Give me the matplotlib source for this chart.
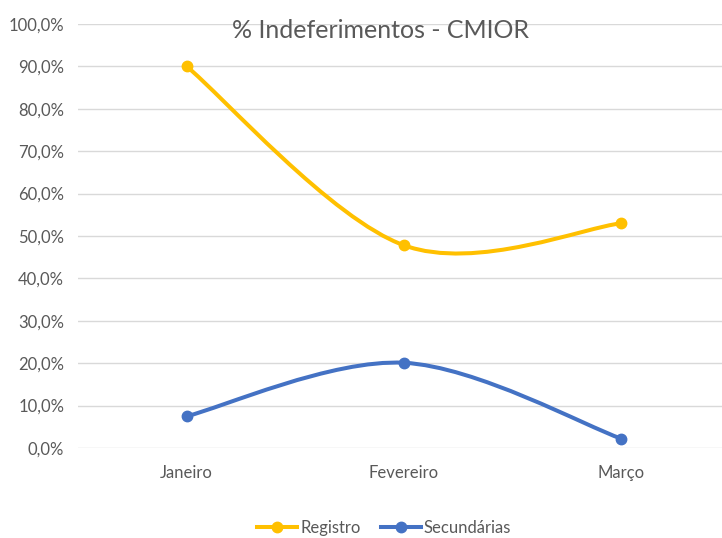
import numpy as np
import matplotlib.pyplot as plt
from matplotlib.path import Path
from matplotlib.patches import PathPatch
from matplotlib.ticker import FuncFormatter

plt.rcParams['font.family'] = ['Lato', 'DejaVu Sans']

meses = ['Janeiro', 'Fevereiro', 'Março']
registro = [90.0, 47.8, 53.0]
secundarias = [7.5, 20.1, 2.2]

cor_registro = '#FFC000'
cor_secundarias = '#4472C4'
cinza = '#595959'

fig = plt.figure(figsize=(7.22, 5.38), dpi=100)
# area do grafico passa um pouco da borda direita (imagem recortada)
ax = fig.add_axes([78 / 722, 1 - 448 / 538, 652 / 722, (448 - 24) / 538])
ax.set_xlim(-0.5, 2.5)
ax.set_ylim(0, 100)


def suave(ax, ys, cor):
    # curva suavizada estilo Excel (Catmull-Rom em coordenadas de tela)
    xs = np.arange(len(ys))
    pts = ax.transData.transform(np.column_stack([xs, ys]))
    verts = [pts[0]]
    codes = [Path.MOVETO]
    n = len(pts)
    for i in range(n - 1):
        p0 = pts[i - 1] if i > 0 else pts[i]
        p1 = pts[i]
        p2 = pts[i + 1]
        p3 = pts[i + 2] if i + 2 < n else pts[i + 1]
        c1 = p1 + (p2 - p0) / 6
        c2 = p2 - (p3 - p1) / 6
        verts += [c1, c2, p2]
        codes += [Path.CURVE4] * 3
    verts = ax.transData.inverted().transform(np.array(verts))
    ax.add_patch(PathPatch(Path(verts, codes), fill=False, edgecolor=cor,
                           lw=2.9, capstyle='round', zorder=3))
    ax.plot(xs, ys, 'o', color=cor, ms=7.5, zorder=4)


suave(ax, registro, cor_registro)
suave(ax, secundarias, cor_secundarias)

ax.set_yticks(np.arange(0, 101, 10))
ax.yaxis.set_major_formatter(FuncFormatter(lambda v, p: f'{v:.1f}%'.replace('.', ',')))
ax.set_xticks(range(len(meses)))
ax.set_xticklabels(meses)
ax.grid(axis='y', color='#d9d9d9', lw=1)
ax.set_axisbelow(True)
for s in ax.spines.values():
    s.set_visible(False)
ax.tick_params(axis='both', length=0, colors=cinza, labelsize=12)
ax.tick_params(axis='y', pad=10)
ax.tick_params(axis='x', pad=12)

fig.text(381 / 722, 1 - 30 / 538, '% Indeferimentos - CMIOR', ha='center', va='center',
         fontsize=18, color=cinza)

h1, = ax.plot([], [], '-o', color=cor_registro, lw=2.9, ms=7.5)
h2, = ax.plot([], [], '-o', color=cor_secundarias, lw=2.9, ms=7.5)
fig.legend([h1, h2], ['Registro', 'Secundárias'], loc='center',
           bbox_to_anchor=(384 / 722, 1 - 528 / 538), ncol=2, frameon=False,
           fontsize=12, labelcolor=cinza, handlelength=2.4, handletextpad=0.2,
           columnspacing=1.2, borderpad=0)

fig.savefig('out.png', dpi=100)
